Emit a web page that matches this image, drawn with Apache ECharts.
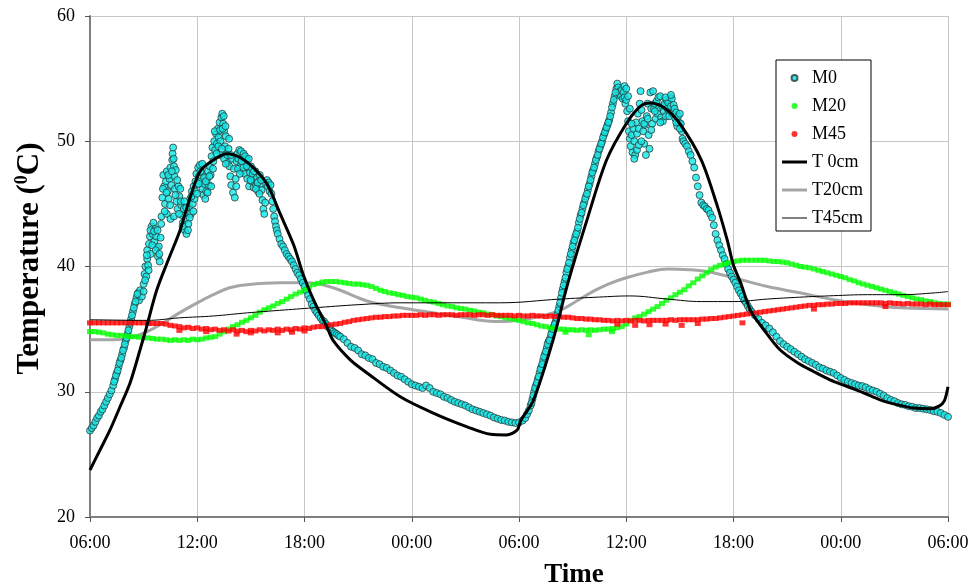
<!DOCTYPE html>
<html>
<head>
<meta charset="utf-8">
<script src="https://cdn.jsdelivr.net/npm/echarts@6/dist/echarts.min.js"></script>
<style>
html,body{margin:0;padding:0;background:#fff;}
#chart{width:971px;height:588px;}
</style>
</head>
<body>
<div id="chart"></div>
<script>
// ---- tick labels (x axis: hours since first 06:00) ----
const xTickLabels = ['06:00','12:00','18:00','00:00','06:00','12:00','18:00','00:00','06:00'];
const seriesNames = ['M0','M20','M45','T 0cm','T20cm','T45cm'];

// ---- M0 measured surface temperature: [hour, °C] ----
const m0Points = [
[0.0,26.9],[0.1,27.1],[0.2,27.3],[0.3,27.6],[0.4,27.9],[0.5,28.1],[0.6,28.4],[0.7,28.6],[0.8,28.9],[0.9,29.2],[1.0,29.5],[1.1,29.8],[1.2,30.1],[1.3,30.5],[1.4,31.0],[1.5,31.5],[1.6,32.0],[1.7,32.5],[1.8,33.0],[1.9,33.5],[2.0,34.1],[2.1,34.6],[2.2,35.2],[2.3,35.8],[2.4,36.4],[2.5,37.0],[2.6,37.5],[2.7,37.9],[2.75,37.3],[2.8,38.1],[2.9,37.6],[3.0,38.0],
[3.0,38.6],[3.05,39.4],[3.1,40.0],[3.15,39.2],[3.2,40.6],[3.2,41.3],[3.25,40.1],[3.3,41.8],[3.35,42.4],[3.4,41.0],[3.45,43.2],[3.5,42.6],[3.55,43.5],[3.6,42.0],[3.65,43.0],[3.7,42.4],[3.75,41.5],[3.8,40.8],[3.85,41.6],[3.9,40.4],[3.95,42.3],
[4.0,44.0],[4.05,45.5],[4.1,47.3],[4.15,46.4],[4.2,45.0],[4.25,46.8],[4.3,47.6],[4.35,46.0],[4.4,45.4],[4.45,47.0],[4.5,47.9],[4.55,46.5],[4.6,48.5],[4.62,49.0],[4.65,49.5],[4.7,48.0],[4.72,47.2],[4.75,46.2],[4.8,47.7],[4.85,45.2],[4.9,44.6],[4.95,46.4],[5.0,45.6],[5.05,46.2],[5.1,44.9],[4.3,44.2],[4.5,43.8],[4.7,44.0],
[5.15,44.1],[5.2,43.5],[5.25,44.6],[5.3,42.9],[5.35,43.8],[5.4,42.6],[5.45,44.3],[5.5,43.4],[5.55,44.8],[5.6,45.4],[5.65,44.2],[5.7,46.0],[5.75,45.0],[5.8,46.4],[5.85,45.4],[5.9,46.8],[5.95,47.4],[6.0,46.6],
[6.05,47.9],[6.1,47.2],[6.15,48.1],[6.2,46.8],[6.25,47.5],[6.3,46.2],[6.35,45.7],[6.4,46.6],[6.45,45.4],[6.5,46.0],[6.55,47.0],[6.6,47.6],[6.65,46.5],[6.7,48.0],[6.75,47.3],[6.8,48.8],[6.85,49.5],[6.9,48.4],
[6.95,50.0],[7.0,49.3],[7.05,50.6],[7.1,49.8],[7.15,51.0],[7.2,50.3],[7.25,51.5],[7.3,50.0],[7.35,51.9],[7.4,52.2],[7.45,51.4],[7.5,50.8],[7.55,49.6],[7.6,50.4],[7.65,49.0],[7.7,48.3],[7.75,49.4],[7.8,48.0],[7.85,47.2],[7.9,46.5],[7.95,48.6],[8.0,45.9],[8.05,47.8],[7.3,48.9],[7.5,48.6],[7.6,48.2],
[8.1,45.5],[8.15,47.0],[8.2,48.4],[8.25,49.0],[8.3,48.6],[8.35,49.3],[8.4,48.0],[8.45,49.2],[8.5,47.6],[8.55,48.7],[8.6,49.0],[8.65,47.4],[8.7,48.2],[8.75,48.6],[8.8,47.0],[8.85,47.9],[8.9,46.4],[8.95,47.5],[9.0,48.0],[9.05,46.8],[9.1,47.4],[9.15,46.3],[9.2,46.9],[9.25,47.6],[9.3,46.5],[9.35,47.1],[9.4,46.0],[9.45,46.8],[9.5,47.3],[9.55,46.6],[9.6,46.1],[9.65,45.3],[9.7,44.6],[9.75,44.2],[9.8,45.1],[9.85,46.6],[9.9,46.9],[9.95,46.4],[10.0,46.7],[10.05,46.0],[10.1,46.5],[10.15,45.8],[10.2,45.2],[10.25,44.6],[10.3,44.0],[10.35,43.6],[10.4,43.2],[10.45,42.9],
[10.5,42.6],[10.6,42.2],[10.7,41.8],[10.8,41.6],[10.9,41.3],[11.0,41.0],[11.1,40.8],[11.2,40.6],[11.3,40.4],[11.4,40.1],[11.5,39.8],[11.6,39.5],[11.7,39.3],[11.8,39.0],[11.9,38.7],[12.0,38.4],[12.1,38.1],[12.2,37.7],[12.3,37.4],[12.4,37.0],[12.5,36.8],[12.6,36.5],[12.7,36.3],[12.8,36.1],[12.9,35.9],[13.0,35.7],[13.1,35.6],[13.2,35.4],[13.3,35.2],[13.4,35.1],[13.5,34.9],[13.6,34.8],[13.7,34.7],[13.8,34.6],[13.9,34.5],[14.0,34.4],
[14.2,34.2],[14.4,33.9],[14.6,33.6],[14.8,33.5],[15.0,33.3],[15.2,33.0],[15.4,32.9],[15.6,32.7],[15.8,32.6],[16.0,32.3],[16.2,32.2],[16.4,32.0],[16.6,31.9],[16.8,31.7],[17.0,31.5],[17.2,31.3],[17.4,31.2],[17.6,31.0],[17.8,30.8],[18.0,30.6],[18.2,30.5],[18.4,30.4],[18.6,30.3],[18.8,30.5],[19.0,30.3],[19.2,30.0],[19.4,29.9],[19.6,29.8],[19.8,29.6],[20.0,29.5],[20.2,29.35],[20.4,29.2],[20.6,29.1],[20.8,29.0],[21.0,28.9],[21.2,28.75],[21.4,28.6],[21.6,28.5],[21.8,28.4],[22.0,28.3],[22.2,28.2],[22.4,28.1],[22.6,27.95],[22.8,27.85],[23.0,27.75],[23.2,27.7],[23.4,27.6],[23.6,27.55],[23.8,27.5],[24.0,27.55],[24.2,27.7],
[24.35,27.9],[24.45,28.2],[24.55,28.5],[24.65,28.9],[24.75,29.4],[24.85,30.0],[24.95,30.5],[25.05,31.0],[25.15,31.5],[25.25,32.0],[25.35,32.5],[25.45,33.0],[25.55,33.5],[25.65,34.0],[25.75,34.3],[25.85,34.8],[25.95,35.2],[26.05,35.6],[26.15,36.2],[26.25,36.8],[26.35,37.5],[26.45,38.2],[26.55,38.8],[26.65,39.5],[26.75,40.0],
[26.85,40.7],[26.95,41.3],[27.05,41.9],[27.15,42.4],[27.25,42.8],[27.35,43.5],[27.45,44.1],[27.55,44.6],[27.65,45.1],[27.75,45.6],[27.85,46.1],[27.95,46.6],[28.05,47.2],[28.15,47.7],[28.25,48.2],[28.35,48.7],[28.45,49.2],[28.55,49.6],[28.65,50.0],[28.75,50.5],[28.85,50.9],[28.95,51.3],[29.05,51.7],[29.15,52.3],[29.25,53.0],[29.35,53.6],[29.45,54.2],[29.5,54.6],[29.55,54.3],[29.6,53.8],[29.65,54.0],[29.7,53.6],[29.75,54.1],[29.8,53.4],[29.85,53.9],[29.9,53.5],[29.95,53.0],[30.0,53.3],
[30.05,52.4],[30.1,51.6],[30.15,50.8],[30.2,50.2],[30.25,49.6],[30.3,50.5],[30.35,49.1],[30.4,51.0],[30.45,50.0],[30.5,48.9],[30.55,51.5],[30.6,50.6],[30.65,52.2],[30.7,51.0],[30.75,53.0],[30.8,54.0],[30.85,52.5],[30.9,51.6],[30.95,50.8],[31.0,49.8],[31.05,51.3],[31.1,48.9],[31.15,52.0],[31.2,53.0],[31.25,50.5],[31.3,49.4],[31.35,53.9],[31.4,52.6],
[31.45,51.4],[31.5,54.0],[31.55,52.6],[31.6,53.0],[31.65,51.8],[31.7,53.2],[31.75,52.2],[31.8,53.5],[31.85,52.7],[31.9,53.6],[31.95,51.9],[32.0,52.8],[32.05,51.6],[32.1,52.4],[32.15,53.0],[32.2,52.0],[32.25,53.3],[32.3,52.6],[32.35,53.1],[32.4,52.0],[32.45,53.5],[32.5,52.8],[32.55,53.4],[32.6,52.2],[32.65,52.9],[32.7,52.6],[32.75,51.8],[32.8,52.3],[32.85,51.2],[32.9,52.0],[32.95,51.5],[33.0,52.2],[33.05,51.4],[33.1,50.8],[33.15,50.2],[33.2,50.0],[33.3,49.8],[33.4,49.6],[33.5,49.2],[33.6,48.9],[33.7,48.4],[33.8,47.9],[33.9,47.1],[34.0,46.4],[34.1,45.7],[34.2,45.1],[34.3,44.9],[34.4,44.8],[34.5,44.6],[34.6,44.5],[34.7,44.2],[34.8,43.9],[34.9,43.3],[35.0,42.6],[35.1,42.1],[35.2,41.7],[35.3,41.3],[35.4,40.9],[35.5,40.6],[35.6,40.2],[35.7,39.8],[35.8,39.5],[35.9,39.2],
[36.0,38.95],[36.1,38.7],[36.2,38.4],[36.3,38.1],[36.4,37.85],[36.5,37.6],[36.6,37.3],[36.7,37.1],[36.8,36.85],[36.9,36.6],[37.0,36.4],[37.2,36.1],[37.4,35.8],[37.6,35.5],[37.8,35.3],[38.0,35.05],[38.2,34.75],[38.4,34.4],[38.6,34.05],[38.8,33.8],[39.0,33.6],[39.2,33.4],[39.4,33.2],[39.6,33.0],[39.8,32.8],[40.0,32.6],[40.2,32.45],[40.4,32.3],[40.6,32.15],[40.8,31.95],[41.0,31.85],[41.2,31.7],[41.4,31.6],[41.6,31.5],[41.8,31.3],[42.0,31.1],[42.2,30.95],[42.4,30.8],[42.6,30.7],[42.8,30.6],[43.0,30.5],[43.2,30.45],[43.4,30.35],[43.6,30.2],[43.8,30.1],[44.0,30.0],[44.2,29.85],[44.4,29.7],[44.6,29.5],[44.8,29.35],[45.0,29.25],[45.2,29.1],[45.4,29.0],[45.6,28.95],[45.8,28.85],[46.0,28.8],[46.2,28.7],[46.4,28.7],[46.6,28.65],[46.8,28.6],[47.0,28.55],[47.2,28.45],[47.4,28.4],[47.6,28.3],[47.8,28.15],[48.0,28.0],
// denser readings on steep rises and in the noisy midday clusters
[1.35,30.8],[1.45,31.3],[1.55,31.7],[1.65,32.3],[1.75,32.7],[1.85,33.3],[1.95,33.8],[2.05,34.3],[2.15,34.9],[2.25,35.5],[2.35,36.1],[2.45,36.7],[2.55,37.2],[2.65,37.8],
[3.08,38.9],[3.18,40.9],[3.28,39.7],[3.38,42.9],[3.48,41.7],[3.58,42.8],[3.68,41.3],[3.78,42.9],[3.88,41.0],[3.98,43.4],
[4.08,46.2],[4.18,44.4],[4.28,45.9],[4.38,47.3],[4.48,44.9],[4.58,47.6],[4.68,48.6],[4.78,45.7],[4.88,46.9],[4.98,44.2],
[5.08,45.2],[5.18,43.2],[5.28,45.2],[5.38,44.7],[5.48,42.9],[5.58,43.9],[5.68,45.6],[5.78,44.4],[5.88,46.0],[5.98,45.8],
[6.08,46.6],[6.18,47.6],[6.28,48.2],[6.38,47.1],[6.48,46.8],[6.58,45.9],[6.68,47.2],[6.78,46.4],[6.88,47.8],
[6.98,50.8],[7.08,49.0],[7.18,49.6],[7.28,50.9],[7.38,49.4],[7.42,51.0],[7.48,52.0],[7.58,51.2],[7.68,48.9],[7.78,50.2],[7.88,48.9],
[8.18,46.4],[8.28,47.8],[8.38,47.4],[8.48,48.4],[8.58,47.9],[8.68,48.8],[8.78,48.0],[8.88,48.6],[8.98,46.9],[9.08,47.8],[9.18,47.6],[9.28,46.2],[9.38,46.7],[9.48,45.8],[9.58,46.9],
[24.7,29.1],[24.8,29.7],[24.9,30.3],[25.0,30.7],[25.1,31.2],[25.2,31.8],[25.3,32.2],[25.4,32.8],[25.5,33.2],[25.6,33.8],[25.7,34.1],[25.8,34.6],[25.9,35.0],[26.0,35.4],[26.1,35.9],[26.2,36.5],[26.3,37.1],[26.4,37.9],[26.5,38.5],[26.6,39.1],[26.7,39.8],[26.8,40.3],[26.9,41.0],[27.0,41.6],[27.1,42.1],[27.2,42.6],[27.3,43.1],[27.4,43.8],[27.5,44.3],[27.6,44.9],[27.7,45.4],[27.8,45.8],[27.9,46.4],[28.0,46.9],[28.1,47.5],[28.2,47.9],[28.3,48.5],[28.4,48.9],[28.5,49.4],[28.6,49.8],[28.7,50.3],[28.8,50.7],[28.9,51.1],[29.0,51.5],[29.1,52.0],[29.2,52.7],[29.3,53.3],[29.4,53.9],
[29.9,54.4],[30.0,54.2],[30.1,53.6],[30.2,52.6],[30.3,51.4],[30.45,48.6],[30.6,49.3],[30.7,49.7],[30.85,50.0],[31.0,51.4],[31.2,51.8],[31.4,50.9],[31.6,52.4],[31.9,51.5],[32.2,53.5],[32.5,53.7],[32.8,51.5],[33.0,51.0]
];

// ---- M20 / M45 logged every 0.25 h starting at hour 0 ----
const sampleStepHours = 0.25;
const m20Values = [
34.8,34.8,34.75,34.7,34.6,34.55,34.5,34.5,
34.45,34.4,34.4,34.35,34.3,34.3,34.25,34.2,
34.2,34.15,34.1,34.15,34.1,34.15,34.1,34.2,
34.15,34.2,34.3,34.35,34.4,34.6,34.8,35.0,
35.2,35.35,35.55,35.7,35.9,36.1,36.35,36.55,
36.7,36.85,37.05,37.2,37.4,37.6,37.8,37.95,
38.15,38.35,38.55,38.65,38.75,38.8,38.8,38.8,
38.75,38.7,38.65,38.6,38.6,38.55,38.5,38.4,
38.25,38.1,38.0,37.9,37.85,37.75,37.7,37.6,
37.55,37.5,37.4,37.3,37.2,37.15,37.05,36.95,
36.85,36.8,36.7,36.65,36.6,36.5,36.45,36.35,
36.3,36.2,36.15,36.05,36.0,35.9,35.85,35.8,
35.7,35.6,35.5,35.45,35.35,35.25,35.2,35.1,
35.05,35.0,35.0,34.95,34.95,34.9,34.95,34.9,
34.95,34.9,34.95,35.0,35.0,35.05,35.1,35.2,
35.4,35.7,35.9,36.0,36.2,36.4,36.6,36.8,
37.05,37.3,37.5,37.75,37.95,38.15,38.45,38.7,
39.0,39.25,39.5,39.75,39.95,40.1,40.2,40.3,
40.4,40.45,40.5,40.5,40.5,40.5,40.5,40.5,
40.45,40.4,40.4,40.35,40.3,40.2,40.1,40.0,
39.95,39.9,39.8,39.7,39.6,39.5,39.4,39.3,
39.2,39.1,38.95,38.85,38.7,38.6,38.5,38.4,
38.3,38.2,38.1,38.0,37.9,37.8,37.7,37.6,
37.5,37.4,37.35,37.25,37.2,37.1,37.05,37.0,
37.0
];
const m20Extra = [[26.6,34.75],[27.9,34.55],[29.2,34.8]];

const m45Values = [
35.5,35.5,35.5,35.5,35.5,35.5,35.5,35.5,
35.5,35.5,35.5,35.5,35.5,35.45,35.45,35.45,
35.45,35.4,35.3,35.25,35.2,35.1,35.15,35.05,
35.1,35.0,35.05,34.95,35.0,34.9,34.95,34.85,
34.95,34.85,34.9,34.8,34.9,34.85,34.95,34.85,
34.95,34.9,35.0,34.9,35.0,34.95,35.05,35.0,
35.1,35.05,35.15,35.2,35.2,35.3,35.35,35.4,
35.45,35.55,35.6,35.7,35.75,35.8,35.85,35.9,
35.95,35.95,36.0,36.0,36.05,36.05,36.1,36.1,
36.1,36.1,36.15,36.1,36.15,36.15,36.1,36.15,
36.15,36.15,36.1,36.15,36.15,36.15,36.1,36.15,
36.15,36.1,36.15,36.1,36.1,36.1,36.1,36.05,
36.1,36.05,36.05,36.1,36.05,36.05,36.0,36.05,
36.0,36.0,35.95,35.95,35.9,35.85,35.85,35.8,
35.8,35.75,35.75,35.7,35.7,35.65,35.7,35.65,
35.7,35.65,35.7,35.7,35.65,35.7,35.7,35.7,
35.7,35.7,35.75,35.7,35.75,35.75,35.75,35.75,
35.75,35.8,35.8,35.85,35.85,35.9,35.95,36.0,
36.05,36.1,36.15,36.2,36.25,36.3,36.35,36.4,
36.45,36.5,36.55,36.6,36.65,36.7,36.75,36.8,
36.85,36.9,36.9,36.95,36.95,37.0,37.0,37.05,
37.05,37.05,37.1,37.1,37.1,37.1,37.1,37.1,
37.1,37.1,37.05,37.1,37.05,37.05,37.0,37.05,
37.0,37.0,37.0,36.95,37.0,36.95,36.95,36.95,
36.95
];
const m45Extra = [[5.0,34.9],[6.5,34.8],[8.2,34.6],[9.0,34.7],[10.5,34.7],[11.3,34.75],[12.0,34.85],[29.5,35.4],[30.5,35.3],[31.3,35.35],[32.2,35.4],[33.1,35.3],[34.0,35.45],[36.5,35.5],[40.5,36.6],[44.5,36.8]];

// ---- modelled temperatures: [hour, °C] ----
const t0Curve = [
[0,23.75],[0.56,25.35],[1.12,26.95],[1.68,28.8],[2.24,30.7],[2.8,33.35],[3.17,35.2],[3.73,38.1],[4.4,40.6],[5.04,42.9],[5.6,45.5],[6.16,47.6],[6.9,48.5],[7.65,49.0],[8.4,48.7],[9.2,47.8],[9.9,46.6],[10.64,44.2],[11.4,41.7],[11.94,39.3],[12.5,37.35],[13.25,35.2],[13.6,34.1],[14.56,32.55],[15.5,31.5],[17.36,29.6],[19.2,28.3],[21.1,27.2],[22.4,26.6],[23.3,26.55],[23.9,26.95],[24.1,27.7],[24.8,29.3],[25.9,34.1],[26.7,38.5],[27.8,43.7],[28.9,48.5],[30.0,51.4],[30.8,52.8],[31.35,53.05],[32.2,52.6],[33.0,51.4],[34.2,48.5],[35.1,44.8],[35.65,42.1],[36.0,40.1],[36.4,38.7],[36.95,36.5],[37.7,34.95],[38.6,33.35],[39.6,32.3],[40.5,31.6],[41.4,30.95],[42.4,30.4],[43.3,29.9],[44.2,29.35],[45.2,28.95],[46.1,28.7],[47.0,28.65],[47.5,28.85],[47.8,29.3],[48.0,30.4]
];
const t20Curve = [
[0,34.15],[1.3,34.15],[2.2,34.3],[3.2,34.8],[4.1,35.5],[5.0,36.3],[6.0,37.1],[6.9,37.75],[7.8,38.3],[8.8,38.55],[10.6,38.7],[12.0,38.7],[13.6,38.3],[15.5,37.25],[17.4,36.7],[19.2,36.3],[21.0,35.9],[22.2,35.65],[23.0,35.6],[24.0,35.7],[24.8,35.9],[26.3,36.5],[27.3,37.3],[28.2,38.05],[29.0,38.6],[30.0,39.1],[31.2,39.55],[32.3,39.8],[33.5,39.75],[34.5,39.6],[36.0,39.1],[37.9,38.4],[39.7,37.9],[41.6,37.35],[43.5,36.95],[45.4,36.7],[48.0,36.6]
];
const t45Curve = [
[0,35.75],[3.2,35.7],[5.0,35.9],[6.9,36.05],[8.8,36.3],[10.6,36.5],[12.5,36.7],[15.0,36.95],[17.4,37.1],[22.9,37.1],[26.3,37.4],[28.5,37.56],[30.2,37.65],[32.3,37.4],[34.2,37.2],[36.0,37.2],[37.9,37.4],[39.7,37.55],[41.6,37.67],[43.5,37.75],[45.4,37.75],[47.3,37.9],[48.0,38.0]
];

const m20Data = m20Values.map((v, i) => [i * sampleStepHours, v]).concat(m20Extra);
const m45Data = m45Values.map((v, i) => [i * sampleStepHours, v]).concat(m45Extra);

const serif = "'Liberation Serif','Times New Roman',serif";
const chart = echarts.init(document.getElementById('chart'));
chart.setOption({
  animation: false,
  backgroundColor: '#ffffff',
  textStyle: { fontFamily: serif, color: '#000' },
  grid: { left: 90, right: 23, top: 16, bottom: 71, containLabel: false, outerBoundsMode: 'none' },
  legend: {
    orient: 'vertical',
    left: 776, top: 60,
    padding: [9, 8, 4, 6],
    itemGap: 10,
    itemWidth: 25, itemHeight: 6,
    backgroundColor: '#fff',
    borderColor: '#000', borderWidth: 1,
    textStyle: { fontFamily: serif, fontSize: 18, color: '#000', lineHeight: 18 },
    data: [
      { name: seriesNames[0], icon: 'circle' },
      { name: seriesNames[1], icon: 'circle' },
      { name: seriesNames[2], icon: 'circle' },
      { name: seriesNames[3], icon: 'path://M0,0H25V3H0Z' },
      { name: seriesNames[4], icon: 'path://M0,0H25V3H0Z' },
      { name: seriesNames[5], icon: 'path://M0,0H25V1H0Z' }
    ]
  },
  xAxis: {
    type: 'value', min: 0, max: 48, interval: 6,
    name: 'Time', nameLocation: 'middle', nameGap: 45,
    nameTextStyle: { fontFamily: serif, fontSize: 27, fontWeight: 'bold', color: '#000', padding: [0, 0, 0, 110] },
    axisLine: { lineStyle: { color: '#7f7f7f', width: 2 } },
    axisTick: { show: true, length: 5, lineStyle: { color: '#555', width: 1 } },
    axisLabel: { margin: 17, fontSize: 18, color: '#000', fontFamily: serif,
      formatter: v => xTickLabels[Math.round(v / 6)] },
    splitLine: { show: true, lineStyle: { color: '#c6c6c6', width: 1 } }
  },
  yAxis: {
    type: 'value', min: 20, max: 60, interval: 10,
    name: '{b|Temperature (}{s|0}{b|C)}', nameLocation: 'middle', nameGap: 43,
    nameTextStyle: {
      padding: [0, 0, 0, 16],
      rich: {
        b: { fontFamily: serif, fontSize: 31, fontWeight: 'bold', color: '#000', lineHeight: 34 },
        s: { fontFamily: serif, fontSize: 18, fontWeight: 'bold', color: '#000', verticalAlign: 'top', lineHeight: 20 }
      }
    },
    axisLine: { show: true, lineStyle: { color: '#7f7f7f', width: 2 } },
    axisTick: { show: true, length: 5, lineStyle: { color: '#555', width: 1 } },
    axisLabel: { margin: 15, fontSize: 18, color: '#000', fontFamily: serif },
    splitLine: { show: true, lineStyle: { color: '#c6c6c6', width: 1 } }
  },
  series: [
    { name: seriesNames[0], type: 'scatter', data: m0Points, symbol: 'circle', symbolSize: 7,
      itemStyle: { color: '#10e8e8', borderColor: '#2b3b3b', borderWidth: 1 }, z: 2 },
    { name: seriesNames[1], type: 'scatter', data: m20Data, symbol: 'rect', symbolSize: [6, 5],
      itemStyle: { color: '#00ff00' }, z: 3 },
    { name: seriesNames[2], type: 'scatter', data: m45Data, symbol: 'rect', symbolSize: [6, 5],
      itemStyle: { color: '#ff0000' }, z: 3 },
    { name: seriesNames[3], type: 'line', data: t0Curve, smooth: 0.3, symbol: 'none',
      itemStyle: { color: '#000' }, lineStyle: { color: '#000', width: 3 }, z: 4 },
    { name: seriesNames[4], type: 'line', data: t20Curve, smooth: 0.4, symbol: 'none',
      itemStyle: { color: '#a6a6a6' }, lineStyle: { color: '#a6a6a6', width: 3 }, z: 2 },
    { name: seriesNames[5], type: 'line', data: t45Curve, smooth: 0.4, symbol: 'none',
      itemStyle: { color: '#000' }, lineStyle: { color: '#000', width: 1 }, z: 4 }
  ]
});
</script>
</body>
</html>
